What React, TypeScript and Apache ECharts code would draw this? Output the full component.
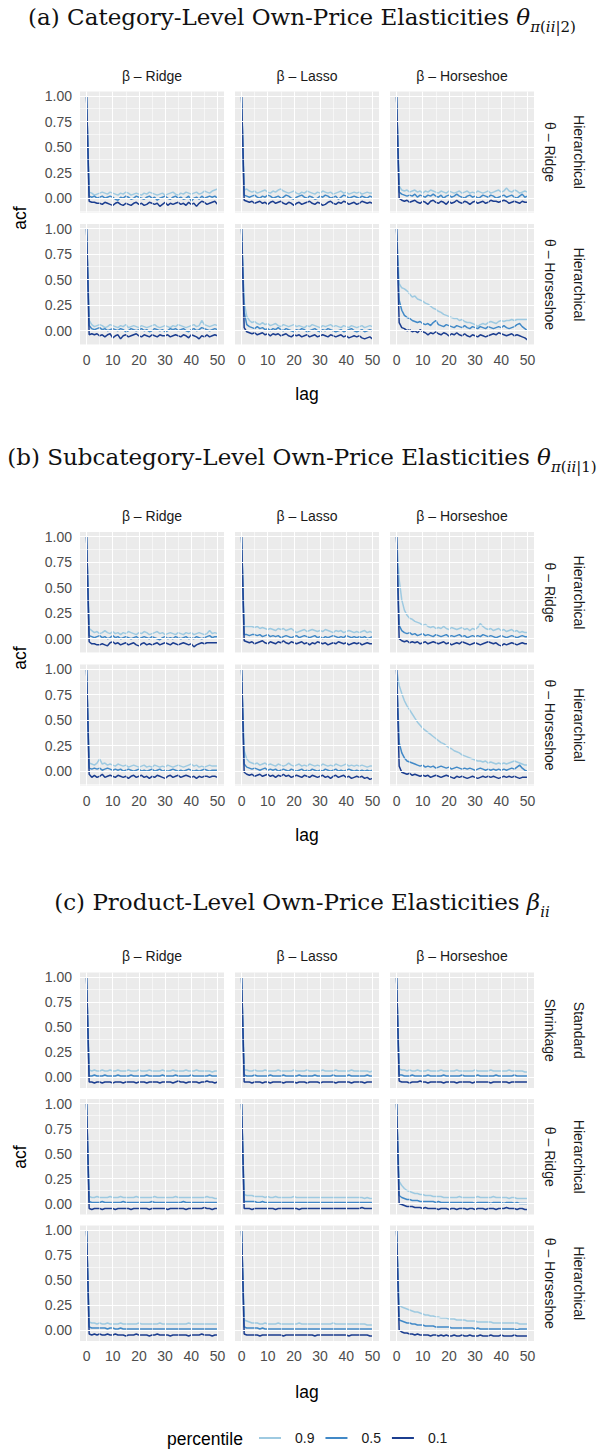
import React, { useEffect, useRef } from "react";
import * as echarts from "echarts";

// ---------------- data ----------------
const LAGS: number[] = Array.from({ length: 51 }, (_, i) => i);
const PERCENTILES = ["0.9", "0.5", "0.1"];
const COL_LABELS = ["β – Ridge", "β – Lasso", "β – Horseshoe"];
const Y_TICKS = [0, 0.25, 0.5, 0.75, 1];
const Y_MINOR = [-0.125, 0.125, 0.375, 0.625, 0.875];
const X_TICKS = [0, 10, 20, 30, 40, 50];
const X_MINOR = [5, 15, 25, 35, 45];

// (a) category level
const a11_90 = [1, .06,.05,.03,.04,.05,.06,.05,.04,.06,.05, .04,.03,.05,.04,.06,.05,.03,.04,.05,.04, .03,.05,.04,.06,.05,.04,.03,.04,.05,.03, .04,.05,.06,.04,.03,.05,.04,.06,.05,.04, .05,.06,.04,.05,.07,.06,.05,.07,.08,.09];
const a11_50 = [1, .02,.01,.02,.00,.01,.02,.00,.01,.02,.01, -.01,-.02,.01,.00,.02,.01,-.01,.00,.02,.01, .00,-.01,.01,.02,.00,.01,-.02,.00,.01,.02, .00,-.01,.01,.02,.00,.01,-.01,.00,.02,-.03, .00,.01,-.01,.02,.00,.01,.02,.01,.02,.00];
const a11_10 = [1, -.03,-.04,-.04,-.05,-.05,-.06,-.04,-.05,-.06,-.07, -.05,-.04,-.06,-.07,-.05,-.06,-.07,-.05,-.04,-.06, -.05,-.07,-.06,-.04,-.05,-.06,-.05,-.08,-.06,-.04, -.07,-.05,-.06,-.05,-.04,-.06,-.05,-.07,-.04,-.06, -.05,-.08,-.05,-.03,-.04,-.06,-.05,-.04,-.03,-.06];
const a12_90 = [1, .08,.09,.07,.06,.07,.05,.06,.07,.08,.06, .05,.07,.06,.08,.09,.07,.06,.05,.06,.07, .05,.04,.06,.05,.07,.06,.05,.04,.06,.05, .07,.06,.05,.06,.04,.05,.06,.07,.05,.06, .04,.05,.06,.05,.06,.04,.05,.06,.05,.05];
const a12_50 = [1, .03,.02,.01,.02,.03,.01,.00,.02,.01,.03, .02,.00,.01,.02,.00,.01,.03,.02,.00,-.01, .01,.02,.03,.01,.00,.02,.01,-.01,.00,.02, .01,.03,.02,.00,.01,.02,-.01,.01,.03,.02, .00,.01,.02,.01,.00,.02,.01,.00,.02,.01];
const a12_10 = [1, -.02,-.03,-.04,-.03,-.05,-.04,-.03,-.05,-.04,-.06, -.04,-.03,-.05,-.04,-.03,-.05,-.06,-.04,-.05,-.07, -.05,-.04,-.06,-.05,-.04,-.03,-.05,-.06,-.04,-.05, -.07,-.06,-.04,-.03,-.05,-.06,-.04,-.05,-.03,-.04, -.06,-.05,-.04,-.06,-.05,-.03,-.04,-.05,-.04,-.05];
const a13_90 = [1, .12,.08,.07,.08,.06,.07,.08,.06,.07,.05, .07,.06,.08,.07,.06,.05,.07,.06,.05,.07, .06,.05,.06,.07,.05,.06,.07,.05,.06,.05, .07,.06,.05,.06,.07,.05,.06,.07,.08,.06, .07,.10,.07,.06,.08,.07,.05,.06,.07,.06];
const a13_50 = [1, .06,.04,.03,.02,.03,.02,.04,.01,.03,.02, .01,.03,.02,.04,.02,.01,.03,.00,.02,.03, .01,.02,.04,.02,.01,.00,.02,.03,.01,.02, .00,.01,.03,.02,.01,.03,.02,.00,.01,.02, .03,.01,.02,.03,.01,.00,.02,.04,.01,.02];
const a13_10 = [1, .00,-.02,-.03,-.02,-.04,-.03,-.02,-.04,-.05,-.03, -.04,-.06,-.03,-.02,-.04,-.05,-.03,-.04,-.06,-.03, -.05,-.04,-.02,-.04,-.05,-.03,-.04,-.06,-.04,-.03, -.05,-.04,-.03,-.05,-.04,-.02,-.03,-.03,-.04,-.03, -.02,-.03,-.05,-.04,-.03,-.04,-.05,-.03,-.04,-.04];
const a21_90 = [1, .10,.06,.04,.05,.06,.05,.03,.04,.06,.05, .04,.03,.05,.04,.06,.03,.04,.05,.04,.03, .05,.04,.03,.04,.05,.06,.04,.03,.04,.05, .04,.03,.05,.04,.06,.05,.04,.03,.04,.05, .06,.04,.05,.10,.06,.05,.04,.05,.06,.05];
const a21_50 = [1, .05,.02,.01,.02,.03,.01,.02,.00,.01,.02, .01,.00,.02,.01,-.01,.00,.02,.01,.00,.01, .02,.00,.01,-.01,.00,.02,.01,.00,.01,-.01, .00,.02,.01,.02,.00,.01,.02,.00,-.01,.01, .02,.00,.01,.03,.02,.01,.00,.01,.02,.01];
const a21_10 = [1, -.04,-.03,-.04,-.03,-.05,-.04,-.06,-.04,-.03,-.07, -.05,-.04,-.08,-.05,-.04,-.06,-.05,-.04,-.03,-.05, -.06,-.04,-.05,-.06,-.04,-.05,-.06,-.04,-.05,-.05, -.04,-.06,-.05,-.04,-.05,-.06,-.04,-.05,-.07,-.04, -.05,-.06,-.08,-.05,-.06,-.04,-.06,-.05,-.04,-.05];
const a22_90 = [1, .28,.14,.10,.08,.09,.07,.06,.08,.06,.07, .05,.06,.07,.05,.04,.06,.05,.04,.05,.06, .04,.05,.04,.03,.05,.04,.06,.05,.04,.03, .05,.04,.05,.06,.04,.05,.04,.03,.05,.04, .03,.05,.04,.03,.04,.05,.03,.04,.05,.04];
const a22_50 = [1, .18,.06,.04,.03,.02,.04,.02,.03,.01,.02, .00,.02,.01,.03,.01,.00,.02,.01,.00,-.01, .01,.00,.02,.01,-.01,.00,.01,.02,.00,-.01, .01,.00,.02,.01,.00,-.01,.00,.01,-.01,.00, .01,.02,.00,-.01,.00,.01,-.01,.00,.01,.00];
const a22_10 = [1, .03,-.01,-.02,-.03,-.02,-.04,-.03,-.02,-.04,-.03, -.05,-.03,-.04,-.03,-.05,-.04,-.03,-.05,-.06,-.04, -.05,-.04,-.06,-.05,-.04,-.06,-.05,-.04,-.06,-.05, -.04,-.05,-.06,-.04,-.05,-.06,-.05,-.04,-.06,-.05, -.07,-.06,-.05,-.06,-.05,-.07,-.08,-.07,-.06,-.08];
const a23_90 = [1, .46,.42,.41,.39,.36,.33,.34,.31,.30,.29, .27,.26,.24,.22,.21,.19,.18,.16,.15,.14, .13,.12,.12,.10,.11,.09,.08,.08,.07,.06, .04,.06,.07,.06,.08,.09,.08,.07,.09,.10, .09,.10,.10,.11,.10,.11,.11,.11,.11,.11];
const a23_50 = [1, .30,.20,.15,.13,.12,.10,.09,.08,.09,.07, .06,.07,.05,.08,.10,.06,.05,.04,.06,.05, .04,.03,.05,.04,.03,.05,.03,.02,.04,.03, .02,.04,.03,.02,.04,.03,.02,.03,.04,.03, .05,.03,.02,.03,.04,.06,.07,.04,.02,.00];
const a23_10 = [1, .08,.03,.02,.00,.01,-.01,.00,-.02,.01,-.01, -.02,-.04,-.02,-.03,-.01,-.03,-.04,-.02,-.03,-.05, -.03,-.04,-.02,-.04,-.05,-.03,-.05,-.06,-.04,-.05, -.06,-.04,-.05,-.06,-.05,-.04,-.03,-.04,-.02,-.03, -.04,-.05,-.04,-.03,-.05,-.04,-.05,-.06,-.07,-.09];

// (b) subcategory level
const b11_90 = [1, .10,.08,.06,.07,.05,.06,.08,.06,.05,.07, .05,.06,.04,.06,.05,.07,.06,.05,.04,.06, .05,.07,.06,.04,.05,.06,.07,.05,.06,.04, .05,.06,.05,.04,.06,.05,.04,.06,.05,.06, .04,.05,.06,.05,.04,.05,.08,.05,.06,.05];
const b11_50 = [1, .03,.02,.01,.02,.03,.01,.02,.00,.01,.03, .01,.02,.00,.01,.02,.01,.00,.01,.02,.00, .01,.02,.01,.00,.02,.01,.00,-.01,.01,.02, .00,.01,.00,.02,.01,.00,.01,.02,.00,.01, .00,.02,.01,.00,.01,.02,.03,.01,.02,.02];
const b11_10 = [1, -.03,-.05,-.05,-.06,-.06,-.05,-.06,-.07,-.04,-.03, -.05,-.04,-.06,-.05,-.04,-.06,-.05,-.04,-.06,-.07, -.05,-.04,-.06,-.05,-.06,-.05,-.04,-.06,-.05,-.04, -.05,-.06,-.04,-.05,-.06,-.05,-.04,-.05,-.06,-.05, -.08,-.06,-.05,-.04,-.05,-.04,-.04,-.04,-.04,-.04];
const b12_90 = [1, .12,.12,.12,.12,.11,.12,.10,.11,.10,.09, .10,.09,.08,.10,.09,.10,.08,.09,.10,.08, .06,.07,.08,.09,.07,.08,.09,.08,.07,.08, .07,.09,.08,.07,.06,.08,.07,.08,.06,.07, .08,.07,.06,.07,.06,.07,.08,.06,.07,.06];
const b12_50 = [1, .04,.04,.03,.04,.04,.03,.04,.02,.03,.04, .02,.03,.02,.03,.01,.02,.03,.02,.01,.02, .03,.01,.02,.03,.02,.01,.02,.03,.01,.02, .00,.02,.01,.02,.03,.02,.01,.02,.01,.03, .02,.01,.02,.01,.02,.01,.02,.00,.01,.02];
const b12_10 = [1, -.02,-.03,-.04,-.03,-.05,-.04,-.03,-.02,-.04,-.05, -.03,-.04,-.05,-.03,-.04,-.02,-.04,-.05,-.03,-.04, -.05,-.04,-.03,-.05,-.04,-.06,-.04,-.05,-.03,-.04, -.05,-.04,-.06,-.05,-.04,-.05,-.03,-.04,-.05,-.04, -.06,-.05,-.04,-.05,-.04,-.06,-.05,-.04,-.05,-.05];
const b13_90 = [1, .58,.38,.28,.23,.20,.19,.17,.16,.15,.13, .14,.12,.11,.12,.10,.11,.10,.12,.10,.09, .11,.10,.09,.10,.11,.09,.10,.08,.10,.09, .11,.15,.12,.10,.09,.10,.08,.09,.10,.08, .09,.07,.08,.09,.07,.08,.06,.07,.06,.06];
const b13_50 = [1, .13,.08,.06,.05,.06,.04,.05,.03,.04,.05, .03,.04,.03,.02,.04,.03,.02,.03,.04,.02, .03,.02,.03,.04,.02,.03,.01,.02,.03,.02, .03,.02,.04,.03,.02,.03,.02,.01,.02,.03, .02,.01,.02,.03,.02,.01,.02,.03,.02,.02];
const b13_10 = [1, .00,-.02,-.03,-.02,-.04,-.03,-.04,-.03,-.05,-.04, -.03,-.05,-.04,-.03,-.04,-.05,-.04,-.03,-.05,-.04, -.06,-.05,-.04,-.05,-.03,-.04,-.05,-.06,-.05,-.04, -.05,-.06,-.05,-.04,-.03,-.04,-.05,-.04,-.06,-.07, -.05,-.06,-.05,-.04,-.05,-.06,-.05,-.04,-.05,-.05];
const b21_90 = [1, .08,.07,.06,.08,.12,.07,.08,.06,.07,.06, .05,.07,.06,.05,.06,.04,.05,.06,.05,.04, .05,.06,.04,.05,.04,.06,.05,.04,.05,.04, .06,.05,.04,.05,.06,.05,.04,.05,.06,.07, .05,.06,.04,.05,.04,.05,.06,.05,.05,.05];
const b21_50 = [1, .03,.02,.03,.02,.03,.01,.02,.03,.02,.01, .02,.01,.02,.00,.01,.02,.01,.00,.01,.02, .00,.01,.00,.01,.02,.00,.01,.02,.00,.01, .00,.01,.02,.01,.00,.01,.00,.01,.02,.01, .00,.01,.00,.01,.02,.01,.00,.01,.01,.01];
const b21_10 = [1, -.03,-.06,-.04,-.06,-.05,-.03,-.06,-.05,-.04,-.05, -.06,-.04,-.05,-.06,-.05,-.07,-.05,-.04,-.06,-.05, -.04,-.06,-.05,-.07,-.05,-.06,-.04,-.05,-.06,-.07, -.05,-.04,-.06,-.05,-.04,-.06,-.05,-.04,-.05,-.06, -.05,-.07,-.05,-.06,-.05,-.05,-.06,-.05,-.05,-.06];
const b22_90 = [1, .20,.12,.09,.08,.07,.08,.06,.07,.08,.06, .07,.06,.05,.07,.06,.05,.06,.08,.06,.05, .06,.07,.05,.06,.05,.07,.06,.05,.06,.05, .07,.06,.05,.06,.05,.07,.06,.05,.06,.07, .05,.06,.05,.06,.05,.06,.05,.04,.05,.05];
const b22_50 = [1, .07,.04,.03,.02,.03,.02,.01,.02,.03,.01, .02,.01,.02,.00,.01,.02,.01,.00,.02,.01, .00,.01,.02,.00,.01,.00,.02,.01,.00,.01, .00,.02,.01,.00,.01,.02,.00,.01,.00,.01, .02,.01,.00,.01,.00,.01,.00,.01,.00,.01];
const b22_10 = [1, -.01,-.03,-.04,-.03,-.05,-.04,-.03,-.05,-.04,-.03, -.05,-.04,-.06,-.04,-.05,-.03,-.05,-.04,-.06,-.05, -.04,-.05,-.06,-.04,-.05,-.06,-.04,-.05,-.06,-.05, -.04,-.06,-.05,-.07,-.05,-.04,-.06,-.05,-.04,-.06, -.05,-.07,-.06,-.05,-.06,-.05,-.07,-.06,-.08,-.07];
const b23_90 = [1, .84,.76,.69,.64,.60,.56,.52,.48,.45,.42, .40,.38,.36,.34,.32,.30,.28,.27,.25,.23, .22,.20,.19,.18,.16,.15,.14,.13,.12,.11, .10,.10,.09,.10,.08,.09,.08,.07,.08,.07, .08,.07,.08,.09,.10,.09,.08,.07,.06,.06];
const b23_50 = [1, .28,.18,.13,.10,.09,.08,.07,.06,.05,.06, .04,.05,.04,.05,.03,.04,.05,.04,.03,.04, .02,.03,.04,.03,.02,.03,.02,.03,.02,.01, .02,.03,.02,.01,.02,.01,.02,.01,.02,.01, .02,.01,.02,.03,.02,.04,.06,.03,.01,.00];
const b23_10 = [1, .05,-.01,-.02,-.03,-.02,-.04,-.03,-.04,-.05,-.04, -.05,-.04,-.06,-.05,-.04,-.05,-.06,-.05,-.04,-.05, -.06,-.07,-.05,-.06,-.05,-.06,-.07,-.06,-.05,-.06, -.07,-.06,-.05,-.06,-.05,-.06,-.05,-.06,-.07,-.06, -.05,-.06,-.05,-.06,-.05,-.06,-.07,-.06,-.06,-.06];

// (c) product level
const c11_90 = [1, .07,.06,.07,.06,.06,.07,.06,.06,.07,.06, .06,.07,.06,.06,.06,.07,.06,.06,.06,.07, .06,.06,.06,.07,.06,.06,.06,.06,.07,.06, .06,.06,.07,.06,.06,.06,.06,.07,.06,.06, .06,.07,.06,.06,.06,.06,.06,.05,.06,.06];
const c11_50 = [1, .01,.01,.02,.01,.01,.01,.02,.01,.01,.01, .01,.02,.01,.01,.01,.01,.02,.01,.01,.01, .01,.01,.02,.01,.01,.01,.01,.01,.02,.01, .01,.01,.01,.02,.01,.01,.01,.01,.01,.02, .01,.01,.01,.01,.01,.01,.02,.01,.01,.01];
const c11_10 = [1, -.05,-.05,-.06,-.05,-.05,-.06,-.05,-.05,-.05,-.06, -.05,-.05,-.05,-.06,-.05,-.05,-.05,-.05,-.06,-.05, -.05,-.05,-.06,-.05,-.05,-.05,-.05,-.06,-.05,-.05, -.05,-.05,-.06,-.05,-.04,-.05,-.05,-.06,-.05,-.05, -.05,-.05,-.06,-.05,-.05,-.04,-.05,-.05,-.06,-.05];
const c12_90 = [1, .07,.07,.06,.06,.07,.06,.06,.06,.07,.06, .06,.06,.06,.07,.06,.06,.06,.06,.06,.07, .06,.06,.06,.06,.07,.06,.06,.06,.06,.06, .07,.06,.06,.06,.06,.07,.06,.06,.06,.06, .06,.07,.06,.06,.06,.06,.06,.06,.05,.06];
const c12_50 = [1, .02,.01,.01,.01,.02,.01,.01,.01,.01,.01, .02,.01,.01,.01,.01,.02,.01,.01,.01,.01, .01,.02,.01,.01,.01,.01,.01,.02,.01,.01, .01,.01,.01,.01,.02,.01,.01,.01,.01,.01, .02,.01,.01,.01,.01,.01,.01,.02,.01,.01];
const c12_10 = [1, -.05,-.05,-.05,-.06,-.05,-.05,-.05,-.06,-.05,-.05, -.06,-.05,-.05,-.05,-.05,-.06,-.05,-.05,-.05,-.05, -.06,-.05,-.05,-.05,-.06,-.05,-.05,-.05,-.05,-.06, -.05,-.05,-.05,-.05,-.05,-.06,-.05,-.05,-.05,-.05, -.05,-.06,-.05,-.05,-.05,-.05,-.06,-.05,-.05,-.05];
const c13_90 = [1, .08,.07,.07,.06,.07,.06,.06,.07,.06,.06, .06,.07,.06,.06,.06,.06,.07,.06,.06,.06, .06,.06,.07,.06,.06,.06,.06,.06,.06,.07, .06,.06,.06,.06,.06,.07,.06,.06,.06,.06, .06,.06,.07,.06,.06,.06,.06,.06,.05,.05];
const c13_50 = [1, .02,.02,.01,.01,.01,.02,.01,.01,.01,.01, .01,.02,.01,.01,.01,.01,.01,.02,.01,.01, .01,.01,.01,.01,.02,.01,.01,.01,.01,.01, .02,.01,.01,.01,.01,.01,.01,.02,.01,.01, .01,.01,.01,.01,.02,.01,.01,.01,.01,.01];
const c13_10 = [1, -.04,-.05,-.05,-.05,-.06,-.05,-.05,-.05,-.04,-.05, -.05,-.06,-.05,-.05,-.05,-.05,-.05,-.06,-.05,-.05, -.05,-.05,-.06,-.05,-.05,-.05,-.05,-.05,-.06,-.05, -.05,-.05,-.05,-.05,-.05,-.06,-.05,-.05,-.05,-.05, -.05,-.05,-.06,-.05,-.05,-.05,-.05,-.05,-.05,-.05];
const c21_90 = [1, .07,.06,.06,.07,.06,.06,.06,.06,.07,.06, .06,.06,.07,.06,.06,.06,.06,.06,.07,.06, .06,.06,.06,.06,.06,.07,.06,.06,.06,.06, .06,.06,.06,.07,.06,.06,.06,.06,.06,.06, .06,.06,.06,.06,.06,.07,.06,.06,.05,.05];
const c21_50 = [1, .02,.01,.01,.01,.01,.02,.01,.01,.01,.01, .01,.01,.01,.02,.01,.01,.01,.01,.01,.01, .01,.01,.01,.01,.02,.01,.01,.01,.01,.01, .01,.01,.01,.01,.01,.01,.02,.01,.01,.01, .01,.01,.01,.01,.01,.01,.01,.01,.01,.01];
const c21_10 = [1, -.05,-.06,-.05,-.05,-.05,-.06,-.05,-.05,-.05,-.05, -.06,-.05,-.05,-.05,-.05,-.05,-.06,-.05,-.05,-.05, -.05,-.05,-.05,-.06,-.05,-.05,-.05,-.05,-.05,-.05, -.06,-.05,-.05,-.05,-.05,-.05,-.05,-.06,-.05,-.05, -.05,-.05,-.05,-.05,-.04,-.05,-.05,-.06,-.05,-.05];
const c22_90 = [1, .09,.08,.08,.08,.07,.07,.07,.07,.06,.07, .06,.06,.07,.06,.06,.06,.06,.06,.06,.07, .06,.06,.06,.06,.06,.06,.06,.06,.06,.06, .06,.06,.06,.06,.06,.06,.06,.06,.06,.06, .06,.06,.06,.06,.06,.06,.05,.06,.05,.05];
const c22_50 = [1, .02,.02,.02,.02,.02,.01,.01,.02,.01,.01, .01,.01,.01,.01,.01,.01,.01,.01,.01,.01, .01,.01,.01,.01,.01,.01,.01,.01,.01,.01, .01,.01,.01,.01,.01,.01,.01,.01,.01,.01, .01,.01,.01,.01,.01,.01,.01,.01,.01,.01];
const c22_10 = [1, -.05,-.05,-.05,-.06,-.05,-.05,-.05,-.05,-.05,-.05, -.05,-.05,-.06,-.05,-.05,-.05,-.05,-.05,-.05,-.05, -.05,-.06,-.05,-.05,-.05,-.05,-.05,-.05,-.05,-.05, -.05,-.05,-.05,-.05,-.05,-.05,-.05,-.05,-.05,-.05, -.05,-.05,-.05,-.05,-.05,-.04,-.05,-.05,-.05,-.05];
const c23_90 = [1, .22,.18,.15,.13,.12,.11,.10,.10,.09,.09, .08,.08,.08,.07,.07,.07,.07,.06,.06,.06, .06,.06,.06,.07,.06,.06,.06,.06,.06,.06, .07,.06,.06,.06,.06,.06,.07,.06,.06,.06, .06,.06,.05,.06,.06,.05,.05,.05,.05,.05];
const c23_50 = [1, .08,.06,.05,.04,.04,.03,.03,.03,.02,.02, .02,.02,.02,.02,.01,.02,.01,.01,.01,.01, .01,.01,.01,.01,.01,.01,.01,.01,.01,.00, .01,.01,.01,.01,.01,.00,.01,.01,.01,.01, .00,.01,.01,.01,.00,.01,.00,.00,.00,.00];
const c23_10 = [1, .00,-.01,-.02,-.03,-.03,-.03,-.04,-.04,-.04,-.05, -.04,-.05,-.05,-.05,-.05,-.06,-.05,-.05,-.05,-.06, -.05,-.05,-.06,-.05,-.05,-.05,-.06,-.05,-.05,-.06, -.05,-.05,-.05,-.06,-.05,-.05,-.05,-.06,-.05,-.05, -.05,-.04,-.05,-.05,-.05,-.06,-.05,-.05,-.06,-.06];
const c31_90 = [1, .08,.07,.07,.06,.07,.06,.06,.07,.06,.06, .06,.06,.07,.06,.06,.06,.06,.06,.06,.07, .06,.06,.06,.06,.06,.06,.06,.07,.06,.06, .06,.06,.06,.06,.06,.06,.06,.06,.07,.06, .06,.06,.06,.06,.06,.06,.06,.06,.06,.06];
const c31_50 = [1, .03,.02,.02,.02,.02,.02,.02,.01,.02,.02, .01,.01,.02,.01,.01,.01,.01,.01,.01,.01, .01,.01,.01,.01,.01,.01,.01,.01,.01,.01, .01,.01,.01,.01,.01,.01,.01,.01,.01,.01, .01,.01,.01,.01,.01,.01,.01,.01,.01,.01];
const c31_10 = [1, -.04,-.05,-.04,-.05,-.04,-.05,-.05,-.04,-.05,-.05, -.04,-.05,-.05,-.05,-.06,-.05,-.05,-.05,-.04,-.05, -.05,-.05,-.05,-.06,-.05,-.05,-.04,-.05,-.05,-.05, -.05,-.06,-.05,-.05,-.05,-.05,-.05,-.05,-.06,-.05, -.05,-.05,-.05,-.04,-.05,-.05,-.05,-.06,-.05,-.05];
const c32_90 = [1, .10,.09,.08,.07,.07,.07,.06,.06,.07,.06, .06,.06,.06,.07,.06,.06,.06,.06,.06,.06, .06,.07,.06,.06,.06,.06,.06,.06,.06,.06, .06,.06,.06,.06,.07,.06,.06,.06,.06,.06, .06,.06,.06,.06,.06,.06,.06,.05,.05,.05];
const c32_50 = [1, .03,.02,.02,.02,.02,.02,.01,.02,.01,.01, .01,.01,.01,.01,.01,.01,.01,.01,.01,.01, .01,.01,.01,.01,.01,.01,.01,.01,.01,.01, .01,.01,.01,.01,.01,.01,.01,.01,.01,.01, .01,.01,.01,.01,.01,.01,.01,.01,.01,.01];
const c32_10 = [1, -.04,-.05,-.05,-.05,-.05,-.05,-.06,-.05,-.05,-.05, -.05,-.05,-.05,-.05,-.05,-.06,-.05,-.05,-.05,-.05, -.05,-.05,-.05,-.05,-.05,-.05,-.05,-.06,-.05,-.05, -.05,-.05,-.05,-.05,-.05,-.05,-.05,-.05,-.05,-.05, -.06,-.05,-.05,-.05,-.05,-.05,-.05,-.05,-.06,-.06];
const c33_90 = [1, .25,.23,.22,.21,.20,.19,.18,.18,.17,.16, .15,.15,.14,.14,.13,.13,.12,.12,.12,.11, .11,.11,.10,.10,.10,.10,.09,.09,.09,.09, .08,.08,.08,.08,.08,.08,.07,.07,.07,.07, .07,.07,.07,.07,.07,.07,.06,.06,.06,.06];
const c33_50 = [1, .10,.09,.08,.07,.07,.06,.06,.05,.05,.05, .04,.04,.04,.04,.03,.03,.03,.03,.03,.03, .02,.02,.02,.02,.02,.02,.02,.02,.02,.01, .02,.01,.01,.01,.01,.01,.01,.01,.01,.01, .01,.01,.01,.01,.01,.00,.01,.01,.01,.01];
const c33_10 = [1, .00,-.02,-.03,-.03,-.04,-.04,-.05,-.04,-.05,-.05, -.05,-.05,-.06,-.05,-.05,-.06,-.05,-.06,-.05,-.06, -.06,-.05,-.06,-.06,-.05,-.06,-.06,-.05,-.06,-.06, -.06,-.05,-.06,-.06,-.06,-.05,-.06,-.06,-.06,-.05, -.06,-.06,-.06,-.06,-.05,-.06,-.06,-.06,-.06,-.06];

// ---------------- styling / layout ----------------
const COLORS = ["#9ECAE1", "#4189C7", "#1B3D8F"];
const SANS = "Liberation Sans";
const SERIF = "DejaVu Serif";
const COL_LEFT = [80, 235, 390];
const PANEL_W = 144;
const Y_MAX = 1.045;

const SECTIONS = [
  {
    title: "{m|(a) Category-Level Own-Price Elasticities }{mi|θ}{si|π}{s|(}{si|ii}{s||2)}",
    rowLabels: [["Hierarchical", "θ – Ridge"], ["Hierarchical", "θ – Horseshoe"]],
    panels: [
      [[a11_90, a11_50, a11_10], [a12_90, a12_50, a12_10], [a13_90, a13_50, a13_10]],
      [[a21_90, a21_50, a21_10], [a22_90, a22_50, a22_10], [a23_90, a23_50, a23_10]],
    ],
    titleY: 20, headerY: 76, rowTops: [91.5, 224], rowH: 121, yMin: -0.14, lagY: 394, acfY: 218,
  },
  {
    title: "{m|(b) Subcategory-Level Own-Price Elasticities }{mi|θ}{si|π}{s|(}{si|ii}{s||1)}",
    rowLabels: [["Hierarchical", "θ – Ridge"], ["Hierarchical", "θ – Horseshoe"]],
    panels: [
      [[b11_90, b11_50, b11_10], [b12_90, b12_50, b12_10], [b13_90, b13_50, b13_10]],
      [[b21_90, b21_50, b21_10], [b22_90, b22_50, b22_10], [b23_90, b23_50, b23_10]],
    ],
    titleY: 460, headerY: 516, rowTops: [532, 664.5], rowH: 121, yMin: -0.14, lagY: 835, acfY: 658,
  },
  {
    title: "{m|(c) Product-Level Own-Price Elasticities }{mi|β}{si|ii}",
    rowLabels: [["Standard", "Shrinkage"], ["Hierarchical", "θ – Ridge"], ["Hierarchical", "θ – Horseshoe"]],
    panels: [
      [[c11_90, c11_50, c11_10], [c12_90, c12_50, c12_10], [c13_90, c13_50, c13_10]],
      [[c21_90, c21_50, c21_10], [c22_90, c22_50, c22_10], [c23_90, c23_50, c23_10]],
      [[c31_90, c31_50, c31_10], [c32_90, c32_50, c32_10], [c33_90, c33_50, c33_10]],
    ],
    titleY: 905, headerY: 956, rowTops: [972.5, 1099, 1225.5], rowH: 115.5, yMin: -0.11, lagY: 1392, acfY: 1157,
  },
];

function txt(x: number, y: number, text: string, size: number, color: string, rotation = 0, family = SANS) {
  return {
    type: "text",
    x,
    y,
    rotation,
    silent: true,
    style: {
      text,
      fill: color,
      fontSize: size,
      fontFamily: family,
      align: "center",
      verticalAlign: "middle",
      textAlign: "center",
      textVerticalAlign: "middle",
    },
  };
}

function buildOption() {
  const grid: any[] = [];
  const xAxis: any[] = [];
  const yAxis: any[] = [];
  const series: any[] = [];
  const graphic: any[] = [];
  let k = 0;

  const richBase = { fontFamily: SERIF, fill: "#111", color: "#111", verticalAlign: "bottom" };
  const rich = {
    m: { ...richBase, fontSize: 23, padding: [0, 0, 6, 0] },
    mi: { ...richBase, fontSize: 23, fontStyle: "italic", padding: [0, 0, 6, 0] },
    s: { ...richBase, fontSize: 15, padding: [0, 0, 0, 0] },
    si: { ...richBase, fontSize: 15, fontStyle: "italic", padding: [0, 0, 0, 0] },
  };

  SECTIONS.forEach((sec) => {
    graphic.push({
      type: "text",
      x: 302,
      y: sec.titleY,
      silent: true,
      style: {
        text: sec.title,
        rich,
        align: "center",
        verticalAlign: "middle",
        textAlign: "center",
        textVerticalAlign: "middle",
      },
    });
    COL_LABELS.forEach((lab, c) => {
      graphic.push(txt(COL_LEFT[c] + PANEL_W / 2, sec.headerY, lab, 14, "#1A1A1A"));
    });
    const nRows = sec.panels.length;
    sec.panels.forEach((row, r) => {
      const top = sec.rowTops[r];
      const cy = top + sec.rowH / 2;
      graphic.push(txt(579, cy, sec.rowLabels[r][0], 14, "#1A1A1A", -Math.PI / 2));
      graphic.push(txt(550, cy, sec.rowLabels[r][1], 14, "#1A1A1A", -Math.PI / 2));
      row.forEach((lines, c) => {
        grid.push({
          left: COL_LEFT[c],
          top,
          width: PANEL_W,
          height: sec.rowH,
          show: true,
          backgroundColor: "#EBEBEB",
          borderWidth: 0,
        });
        xAxis.push({
          type: "value",
          gridIndex: k,
          min: -2.5,
          max: 52.5,
          axisLine: { show: false },
          axisTick: { show: false },
          splitLine: { show: false },
          axisLabel: {
            show: r === nRows - 1,
            customValues: X_TICKS,
            color: "#4D4D4D",
            fontSize: 14,
            fontFamily: SANS,
            margin: 8,
            formatter: (v: number) => String(Math.round(v)),
          },
        });
        yAxis.push({
          type: "value",
          gridIndex: k,
          min: sec.yMin,
          max: Y_MAX,
          axisLine: { show: false },
          axisTick: { show: false },
          splitLine: { show: false },
          axisLabel: {
            show: c === 0,
            customValues: Y_TICKS,
            color: "#4D4D4D",
            fontSize: 14,
            fontFamily: SANS,
            margin: 8,
            formatter: (v: number) => v.toFixed(2),
          },
        });
        const gl: any[] = [];
        Y_TICKS.forEach((v) => gl.push({ yAxis: v }));
        Y_MINOR.filter((v) => v > sec.yMin).forEach((v) => gl.push({ yAxis: v, lineStyle: { width: 0.55 } }));
        X_TICKS.forEach((v) => gl.push({ xAxis: v }));
        X_MINOR.forEach((v) => gl.push({ xAxis: v, lineStyle: { width: 0.55 } }));
        series.push({
          type: "line",
          name: "grid",
          xAxisIndex: k,
          yAxisIndex: k,
          data: [],
          silent: true,
          z: 1,
          markLine: {
            silent: true,
            symbol: ["none", "none"],
            animation: false,
            label: { show: false },
            emphasis: { disabled: true },
            lineStyle: { color: "#FFFFFF", width: 1.1, type: "solid" },
            data: gl,
          },
        });
        lines.forEach((arr, j) => {
          series.push({
            type: "line",
            name: PERCENTILES[j],
            xAxisIndex: k,
            yAxisIndex: k,
            data: LAGS.map((l, i) => [l, arr[i]]),
            showSymbol: false,
            symbol: "none",
            silent: true,
            z: 3,
            lineStyle: { color: COLORS[j], width: 1.5 },
            itemStyle: { color: COLORS[j] },
            emphasis: { disabled: true },
          });
        });
        k++;
      });
    });
    graphic.push(txt(307, sec.lagY, "lag", 17.5, "#000"));
    graphic.push(txt(20, sec.acfY, "acf", 17.5, "#000", Math.PI / 2));
  });

  graphic.push({
    type: "text",
    x: 167,
    y: 1439,
    silent: true,
    style: {
      text: "percentile",
      fill: "#000",
      fontSize: 17.5,
      fontFamily: SANS,
      align: "left",
      verticalAlign: "middle",
      textAlign: "left",
      textVerticalAlign: "middle",
    },
  });

  return {
    animation: false,
    backgroundColor: "#FFFFFF",
    textStyle: { fontFamily: SANS },
    grid,
    xAxis,
    yAxis,
    series,
    graphic,
    legend: {
      data: PERCENTILES,
      left: 259,
      top: 1431,
      padding: 0,
      orient: "horizontal",
      icon: "rect",
      itemWidth: 22,
      itemHeight: 2,
      itemGap: 11,
      selectedMode: false,
      textStyle: { fontSize: 14, color: "#1A1A1A", fontFamily: SANS, padding: [0, 0, 0, 9] },
    },
  };
}

export default function App() {
  const ref = useRef<HTMLDivElement>(null);
  useEffect(() => {
    if (!ref.current) return;
    const chart = echarts.init(ref.current, undefined, { renderer: "svg" });
    chart.setOption(buildOption() as any);
    return () => chart.dispose();
  }, []);
  return (
    <div
      ref={ref}
      style={{ position: "absolute", left: 0, top: 0, width: 597, height: 1450, background: "#fff" }}
    />
  );
}
